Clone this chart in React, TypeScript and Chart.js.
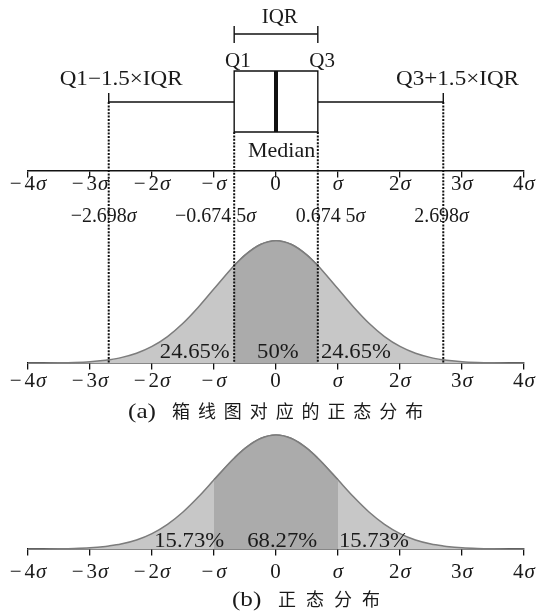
import React, { useEffect, useRef } from "react";
import { Chart, registerables } from "chart.js";

Chart.register(...registerables);

const CANVAS_W = 549;
const CANVAS_H = 614;

// ---------------- data ----------------
// x axis ticks, in units of sigma
const sigmaTicks = [-4, -3, -2, -1, 0, 1, 2, 3, 4];
const sigmaTickSigns = ["−", "−", "−", "−", "", "", "", "", ""];
const sigmaTickNumbers = ["4", "3", "2", "", "0", "", "2", "3", "4"];
const sigmaTickSymbols = ["σ", "σ", "σ", "σ", "", "σ", "σ", "σ", "σ"];

// box plot statistics (sigma units): lower fence, Q1, median, Q3, upper fence
const boxStats = [-2.698, -0.6745, 0, 0.6745, 2.698];
const quartileNumbers = ["−2.698", "−0.674 5", "0.674 5", "2.698"];
const quartileAnchors = [-2.78, -0.975, 0.88, 2.67];

// standard normal density read at these sigma positions
const curveX = [
  -4, -3.75, -3.5, -3.25, -3, -2.75, -2.698, -2.5, -2.25, -2, -1.75, -1.5, -1.25, -1,
  -0.75, -0.6745, -0.5, -0.25, 0, 0.25, 0.5, 0.6745, 0.75, 1, 1.25, 1.5, 1.75, 2, 2.25,
  2.5, 2.698, 2.75, 3, 3.25, 3.5, 3.75, 4,
];
const curveDensity = [
  0.00013, 0.00035, 0.00087, 0.00203, 0.00443, 0.00909, 0.01047, 0.01753, 0.03174, 0.05399,
  0.08628, 0.12952, 0.18265, 0.24197, 0.30114, 0.31777, 0.35207, 0.38667, 0.39894, 0.38667,
  0.35207, 0.31777, 0.30114, 0.24197, 0.18265, 0.12952, 0.08628, 0.05399, 0.03174, 0.01753,
  0.01047, 0.00909, 0.00443, 0.00203, 0.00087, 0.00035, 0.00013,
];

const bandA = [-0.6745, 0.6745];
const bandB = [-1, 1];
const sharesA = ["24.65%", "50%", "24.65%"];
const sharesAAnchors = [-1.31, 0.03, 1.29];
const sharesB = ["15.73%", "68.27%", "15.73%"];
const sharesBAnchors = [-1.4, 0.1, 1.58];

const captionAPrefix = "(a)";
const captionAText = "箱线图对应的正态分布";
const captionBPrefix = "(b)";
const captionBText = "正态分布";

// ---------------- layout (pixels / styles) ----------------
const PANEL_BOX = { zero: 171, unit: 100 };
const PANEL_A = { zero: 363, unit: 306.6 };
const PANEL_B = { zero: 549, unit: 285.8 };
const range = (p: { zero: number; unit: number }) => ({
  min: -(CANVAS_H - p.zero) / p.unit,
  max: p.zero / p.unit,
});
// box geometry, in yBox units
const BOX = { bottom: 0.39, top: 1.0, whisker: 0.69, cap: 0.78, bracket: 1.37, bracketLo: 1.28, bracketHi: 1.45 };
const baseAInBox = (PANEL_BOX.zero - PANEL_A.zero) / PANEL_BOX.unit;

const SERIF = '"Liberation Serif", "Times New Roman", serif';
const CJK = '"Noto Sans CJK SC", sans-serif';
const TEXT = "#1a1a1a";
const LIGHT = "#c7c7c7";
const DARK = "#ababab";
const OUTLINE = "#7c7c7c";

// [text, italic, extra space after]
type Part = [string, boolean, number?];

function drawRich(
  ctx: CanvasRenderingContext2D,
  parts: Part[],
  cx: number,
  baseline: number,
  size: number,
  scaleX = 1
) {
  const fonts = parts.map(([, it]) => `${it ? "italic " : ""}${size}px ${SERIF}`);
  const widths = parts.map(([t, , gap], i) => {
    ctx.font = fonts[i];
    return t ? ctx.measureText(t).width * scaleX + (gap || 0) : 0;
  });
  const total = widths.reduce((a, b) => a + b, 0);
  let x = cx - total / 2;
  ctx.save();
  ctx.fillStyle = TEXT;
  ctx.textBaseline = "alphabetic";
  ctx.textAlign = "left";
  parts.forEach(([t], i) => {
    if (!t) return;
    ctx.font = fonts[i];
    ctx.save();
    ctx.translate(x, baseline);
    ctx.scale(scaleX, 1);
    ctx.fillText(t, 0, 0);
    ctx.restore();
    x += widths[i];
  });
  ctx.restore();
}

function drawCaption(
  ctx: CanvasRenderingContext2D,
  prefix: string,
  text: string,
  prefixLeft: number,
  charsLeft: number,
  pitch: number,
  baseline: number
) {
  ctx.save();
  ctx.fillStyle = TEXT;
  ctx.textBaseline = "alphabetic";
  ctx.textAlign = "left";
  ctx.font = `21px ${SERIF}`;
  ctx.save();
  ctx.translate(prefixLeft, baseline);
  ctx.scale(1.2, 1);
  ctx.fillText(prefix, 0, 0);
  ctx.restore();
  ctx.font = `18px ${CJK}`;
  Array.from(text).forEach((ch, i) => ctx.fillText(ch, charsLeft + i * pitch, baseline));
  ctx.restore();
}

const textPlugin = {
  id: "diagramText",
  afterDraw(chart: any) {
    const ctx: CanvasRenderingContext2D = chart.ctx;
    const { x, xA, xT, yBox, yA, yB } = chart.scales;
    const [lo, q1, , q3, hi] = boxStats;

    // tick labels for the three axes
    const tickRows: [any, any, number][] = [
      [xT, yBox, -0.19],
      [xA, yA, -0.078],
      [x, yB, -0.1015],
    ];
    tickRows.forEach(([xs, ys, v]) => {
      sigmaTicks.forEach((t, i) => {
        drawRich(
          ctx,
          [
            [sigmaTickSigns[i], false, 3],
            [sigmaTickNumbers[i], false, 1],
            [sigmaTickSymbols[i], true],
          ],
          xs.getPixelForValue(t),
          ys.getPixelForValue(v),
          21
        );
      });
    });

    // box plot annotations
    drawRich(ctx, [["IQR", false]], xT.getPixelForValue(0.06), yBox.getPixelForValue(1.48), 21);
    drawRich(ctx, [["Q1", false]], xT.getPixelForValue(q1 + 0.06), yBox.getPixelForValue(1.04), 21);
    drawRich(ctx, [["Q3", false]], xT.getPixelForValue(q3 + 0.07), yBox.getPixelForValue(1.04), 21);
    drawRich(ctx, [["Q1−1.5×IQR", false]], xT.getPixelForValue(lo + 0.2), yBox.getPixelForValue(0.86), 21, 1.1);
    drawRich(ctx, [["Q3+1.5×IQR", false]], xT.getPixelForValue(hi + 0.23), yBox.getPixelForValue(0.86), 21, 1.1);
    drawRich(ctx, [["Median", false]], xT.getPixelForValue(0.09), yBox.getPixelForValue(0.14), 21, 1.05);

    quartileNumbers.forEach((t, i) => {
      drawRich(
        ctx,
        [
          [t, false],
          ["σ", true],
        ],
        xT.getPixelForValue(quartileAnchors[i]),
        yBox.getPixelForValue(-0.51),
        21,
        0.95
      );
    });

    // shares
    sharesA.forEach((t, i) =>
      drawRich(ctx, [[t, false]], xA.getPixelForValue(sharesAAnchors[i]), yA.getPixelForValue(0.0163), 21, 1.08)
    );
    sharesB.forEach((t, i) =>
      drawRich(ctx, [[t, false]], x.getPixelForValue(sharesBAnchors[i]), yB.getPixelForValue(0.007), 21, 1.08)
    );

    // captions
    drawCaption(
      ctx,
      captionAPrefix,
      captionAText,
      xA.getPixelForValue(-2.387),
      xA.getPixelForValue(-1.677),
      25.9,
      yA.getPixelForValue(-0.179)
    );
    drawCaption(
      ctx,
      captionBPrefix,
      captionBText,
      x.getPixelForValue(-0.71),
      x.getPixelForValue(0.032),
      28,
      yB.getPixelForValue(-0.199)
    );
  },
};

function buildConfig(): any {
  const [lo, q1, med, q3, hi] = boxStats;
  const curvePoints = curveX.map((v, i) => ({ x: v, y: curveDensity[i] }));
  const inBand = (band: number[]) =>
    curvePoints.filter((p) => p.x >= band[0] - 1e-9 && p.x <= band[1] + 1e-9);

  const solid = (data: { x: number; y: number }[], width = 1.4) => ({
    type: "line",
    data,
    xAxisID: "x",
    yAxisID: "yBox",
    borderColor: "#111",
    borderWidth: width,
    borderJoinStyle: "miter",
    pointRadius: 0,
    fill: false,
    tension: 0,
    order: 0,
  });
  const dashed = (xv: number, top: number) => ({
    ...solid(
      [
        { x: xv, y: top },
        { x: xv, y: baseAInBox },
      ],
      2
    ),
    borderDash: [2, 1.4],
  });
  const curve = (data: any[], axis: string, color: string, order: number) => ({
    type: "line",
    data,
    xAxisID: "x",
    yAxisID: axis,
    borderColor: OUTLINE,
    borderWidth: 1.5,
    backgroundColor: color,
    fill: "origin",
    pointRadius: 0,
    cubicInterpolationMode: "monotone",
    order,
  });

  const axis = (panelId: string) => ({
    type: "linear",
    axis: "x",
    min: -4,
    max: 4,
    position: { [panelId]: 0 },
    ticks: { display: false, stepSize: 1 },
    grid: {
      display: true,
      drawOnChartArea: false,
      drawTicks: true,
      tickLength: 6,
      color: "#111",
      lineWidth: 1.3,
    },
    border: { display: true, color: "#111", width: 1.6 },
  });

  return {
    type: "line",
    data: {
      datasets: [
        solid([
          { x: q1, y: BOX.bottom },
          { x: q1, y: BOX.top },
          { x: q3, y: BOX.top },
          { x: q3, y: BOX.bottom },
          { x: q1, y: BOX.bottom },
        ]),
        solid(
          [
            { x: med, y: BOX.bottom },
            { x: med, y: BOX.top },
          ],
          4
        ),
        solid([
          { x: lo, y: BOX.cap },
          { x: lo, y: BOX.whisker },
          { x: q1, y: BOX.whisker },
        ]),
        solid([
          { x: q3, y: BOX.whisker },
          { x: hi, y: BOX.whisker },
          { x: hi, y: BOX.cap },
        ]),
        solid([
          { x: q1, y: BOX.bracketLo },
          { x: q1, y: BOX.bracketHi },
        ]),
        solid([
          { x: q1, y: BOX.bracket },
          { x: q3, y: BOX.bracket },
        ]),
        solid([
          { x: q3, y: BOX.bracketLo },
          { x: q3, y: BOX.bracketHi },
        ]),
        dashed(lo, BOX.whisker),
        dashed(q1, BOX.bottom),
        dashed(q3, BOX.bottom),
        dashed(hi, BOX.whisker),
        curve(curvePoints, "yA", LIGHT, 3),
        curve(inBand(bandA), "yA", DARK, 2),
        curve(curvePoints, "yB", LIGHT, 3),
        curve(inBand(bandB), "yB", DARK, 2),
      ],
    },
    options: {
      animation: false,
      responsive: false,
      maintainAspectRatio: false,
      devicePixelRatio: 1,
      events: [],
      layout: { padding: { left: 28, right: 25, top: 0, bottom: 0 } },
      plugins: {
        legend: { display: false },
        tooltip: { enabled: false },
        title: { display: false },
      },
      scales: {
        x: axis("yB"),
        xA: axis("yA"),
        xT: axis("yBox"),
        yBox: { type: "linear", display: false, ...range(PANEL_BOX) },
        yA: { type: "linear", display: false, ...range(PANEL_A) },
        yB: { type: "linear", display: false, ...range(PANEL_B) },
      },
    },
    plugins: [textPlugin],
  };
}

export default function App() {
  const ref = useRef<HTMLCanvasElement>(null);
  useEffect(() => {
    document.body.style.margin = "0";
    const chart = new Chart(ref.current as HTMLCanvasElement, buildConfig());
    return () => chart.destroy();
  }, []);
  return (
    <canvas
      ref={ref}
      width={CANVAS_W}
      height={CANVAS_H}
      style={{ display: "block", width: CANVAS_W, height: CANVAS_H }}
    />
  );
}
